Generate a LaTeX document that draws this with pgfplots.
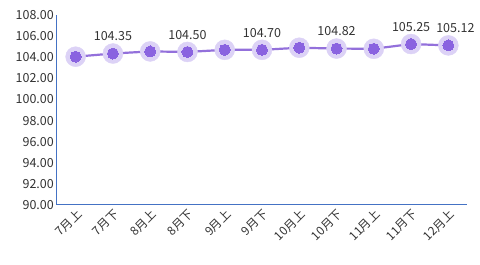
\documentclass[border=0pt]{standalone}
\usepackage{pgfplots}
\pgfplotsset{compat=1.18}
\usepackage{fontspec}
\setmainfont{Noto Sans CJK SC}
\definecolor{axisblue}{HTML}{4472C4}
\definecolor{linepurple}{HTML}{9370DB}
\definecolor{dotpurple}{HTML}{8A63E0}
\definecolor{halo}{HTML}{DCD2F6}
\definecolor{txt}{HTML}{333333}
\begin{document}
\begin{tikzpicture}[x=1pt,y=1pt]
\useasboundingbox (0,0) rectangle (480,265);
\begin{axis}[
  at={(57pt,60pt)}, anchor=south west,
  scale only axis, width=410pt, height=190pt,
  xmin=-0.5, xmax=10.5, ymin=90, ymax=108,
  axis x line*=bottom, axis y line*=left,
  x axis line style={-, draw=axisblue, line width=1pt},
  y axis line style={-, draw=axisblue, line width=1pt},
  xtick={0,...,10},
  xticklabels={7月上,7月下,8月上,8月下,9月上,9月下,10月上,10月下,11月上,11月下,12月上},
  ytick={90,92,...,108},
  major tick length=0pt,
  yticklabel style={/pgf/number format/fixed, /pgf/number format/precision=2, /pgf/number format/fixed zerofill, font=\fontsize{12.5}{14}\selectfont, text=txt, inner sep=3pt},
  /pgf/number format/assume math mode=true,
  xticklabel style={rotate=45, anchor=north east, font=\fontsize{12}{14}\selectfont, text=txt, inner sep=2pt},
  clip=false,
]
\addplot[halo, only marks, mark=*, mark size=10pt, mark options={fill=halo, draw=halo}] coordinates {
(0,104.05) (1,104.35) (2,104.55) (3,104.50) (4,104.70) (5,104.70) (6,104.90) (7,104.82) (8,104.80) (9,105.25) (10,105.12)};
\addplot[linepurple, line width=2.2pt, mark=*, mark size=5.5pt, mark options={fill=dotpurple, draw=dotpurple, line width=0pt}] coordinates {
(0,104.05) (1,104.35) (2,104.55) (3,104.50) (4,104.70) (5,104.70) (6,104.90) (7,104.82) (8,104.80) (9,105.25) (10,105.12)};
\addplot[draw=none, mark=none, nodes near coords, point meta=explicit symbolic,
  nodes near coords style={font=\fontsize{12.5}{14}\selectfont, text=txt, anchor=south, yshift=9pt}]
  coordinates {
(1,104.35) [104.35] (3,104.50) [104.50] (5,104.70) [104.70] (7,104.82) [104.82] (9,105.25) [105.25]};
\addplot[draw=none, mark=none, nodes near coords, point meta=explicit symbolic,
  nodes near coords style={font=\fontsize{12.5}{14}\selectfont, text=txt, anchor=south, yshift=9pt, xshift=7pt}]
  coordinates {(10,105.12) [105.12]};
\end{axis}
\end{tikzpicture}
\end{document}
